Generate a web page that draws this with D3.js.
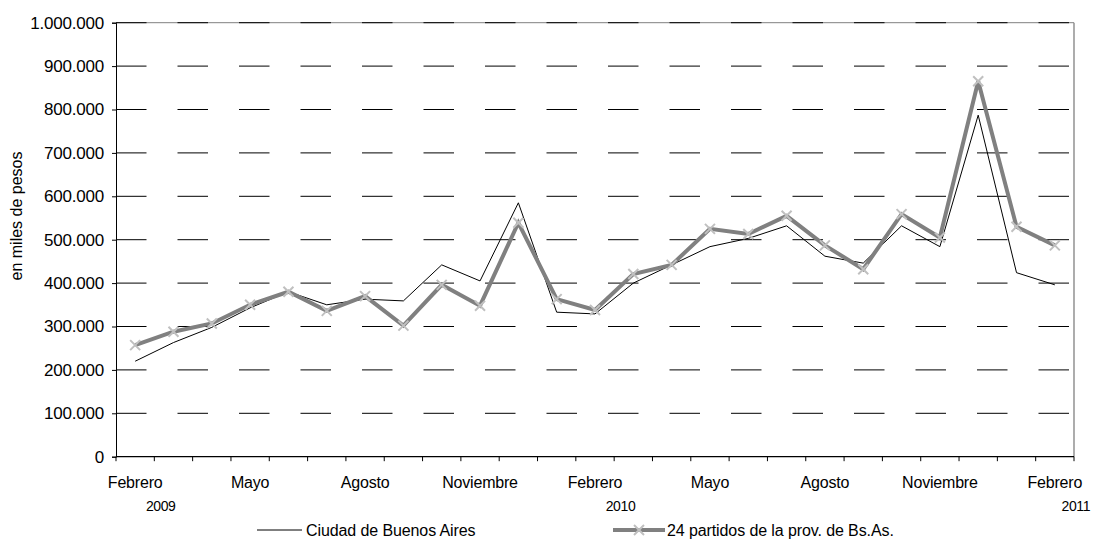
<!DOCTYPE html>
<html>
<head>
<meta charset="utf-8">
<script src="https://cdn.jsdelivr.net/npm/d3@7"></script>
<style>
  html, body { margin: 0; padding: 0; background: #fff; }
  svg text { font-family: "Liberation Sans", Arial, sans-serif; fill: #000; }
</style>
</head>
<body>
<svg id="chart" width="1093" height="540"></svg>
<script>
// ---- data (miles de pesos) ----
const months = ["Febrero","Marzo","Abril","Mayo","Junio","Julio","Agosto","Septiembre","Octubre","Noviembre","Diciembre","Enero",
                "Febrero","Marzo","Abril","Mayo","Junio","Julio","Agosto","Septiembre","Octubre","Noviembre","Diciembre","Enero","Febrero"];
const labelIdx = [0, 3, 6, 9, 12, 15, 18, 21, 24];
const years = ["2009", "2010", "2011"];
const yearIdx = [0, 12, 24];
const ciudad   = [220000, 263000, 298000, 343000, 380000, 350000, 363000, 359000, 442000, 405000, 585000, 333000, 329000,
                  400000, 442000, 484000, 503000, 532000, 462000, 446000, 532000, 484000, 787000, 424000, 396000];
const partidos = [257000, 288000, 307000, 350000, 380000, 336000, 370000, 302000, 396000, 348000, 539000, 363000, 338000,
                  421000, 442000, 525000, 513000, 555000, 487000, 432000, 559000, 505000, 865000, 530000, 487000];
const yTicks = [0,100000,200000,300000,400000,500000,600000,700000,800000,900000,1000000];
const seriesNames = ["Ciudad de Buenos Aires", "24 partidos de la prov. de Bs.As."];

const svg = d3.select("#chart");
const L = 116, R = 1074, T = 22.7, B = 456.7;

const x = d3.scaleBand().domain(d3.range(months.length)).range([L, R]).padding(0);
const cx = i => x(i) + x.bandwidth() / 2;
const y = d3.scaleLinear().domain([0, 1000000]).range([B, T]);

const loc = d3.formatLocale({decimal: ",", thousands: ".", grouping: [3], currency: ["$", ""]});
const fmt = loc.format(",d");

// plot border (top & right gray)
svg.append("line").attr("x1", L).attr("x2", R).attr("y1", T).attr("y2", T)
   .attr("stroke", "#808080").attr("stroke-width", 1);
svg.append("line").attr("x1", R).attr("x2", R).attr("y1", T).attr("y2", B)
   .attr("stroke", "#808080").attr("stroke-width", 1.3);

// dashed gridlines
svg.append("g").selectAll("line").data(yTicks.filter(d => d > 0)).join("line")
  .attr("x1", L).attr("x2", R)
  .attr("y1", d => y(d)).attr("y2", d => y(d))
  .attr("stroke", "#000").attr("stroke-width", 1)
  .attr("stroke-dasharray", "30.5,31");

// y axis
const yAxis = svg.append("g").attr("transform", `translate(${L},0)`)
  .call(d3.axisLeft(y).tickValues(yTicks).tickFormat(fmt).tickSize(4).tickPadding(8));
yAxis.select(".domain").attr("stroke", "#000");
yAxis.selectAll(".tick line").attr("stroke", "#000");
yAxis.selectAll("text").attr("font-size", 17).attr("font-family", '"Liberation Sans", Arial, sans-serif')
  .attr("letter-spacing", -0.2).attr("fill", "#000");

// x axis baseline & ticks at category boundaries
svg.append("line").attr("x1", L).attr("x2", R).attr("y1", B).attr("y2", B)
  .attr("stroke", "#000").attr("stroke-width", 1.2);
const bounds = d3.range(months.length + 1).map(i => i < months.length ? x(i) : x(months.length - 1) + x.bandwidth());
svg.append("g").selectAll("line").data(bounds).join("line")
  .attr("x1", d => d).attr("x2", d => d).attr("y1", B).attr("y2", B + 4.5)
  .attr("stroke", "#000").attr("stroke-width", 1);

// month labels
svg.append("g").selectAll("text").data(labelIdx).join("text")
  .attr("x", i => cx(i)).attr("y", 487.5)
  .attr("text-anchor", "middle").attr("font-size", 16).attr("letter-spacing", -0.2)
  .text(i => months[i]);

// year labels
svg.append("g").selectAll("text").data(yearIdx).join("text")
  .attr("x", (i, k) => cx(i) + (k === 2 ? 21 : 25.5)).attr("y", 511)
  .attr("text-anchor", "middle").attr("font-size", 14).attr("letter-spacing", -0.4)
  .text((i, k) => years[k]);

// y axis title
svg.append("text").attr("transform", "translate(22,216) rotate(-90)")
  .attr("text-anchor", "middle").attr("font-size", 16).text("en miles de pesos");

// lines
const line = d3.line().x((d, i) => cx(i)).y(d => y(d));
svg.append("path").datum(ciudad).attr("d", line)
  .attr("fill", "none").attr("stroke", "#000").attr("stroke-width", 1);
svg.append("path").datum(partidos).attr("d", line)
  .attr("fill", "none").attr("stroke", "#808080").attr("stroke-width", 4).attr("stroke-linejoin", "miter");

// x markers
const mk = 5;
const xMark = (px, py) => `M${px - mk},${py - mk}L${px + mk},${py + mk}M${px - mk},${py + mk}L${px + mk},${py - mk}`;
svg.append("g").selectAll("path").data(partidos).join("path")
  .attr("d", (d, i) => xMark(cx(i), y(d)))
  .attr("stroke", "#c0c0c0").attr("stroke-width", 2).attr("fill", "none");

// legend
const lg = svg.append("g");
lg.append("line").attr("x1", 257).attr("x2", 302).attr("y1", 530).attr("y2", 530)
  .attr("stroke", "#000").attr("stroke-width", 1);
lg.append("text").attr("x", 306).attr("y", 535.5).attr("font-size", 16).attr("letter-spacing", -0.1)
  .text(seriesNames[0]);
lg.append("line").attr("x1", 613).attr("x2", 665).attr("y1", 530).attr("y2", 530)
  .attr("stroke", "#808080").attr("stroke-width", 4);
lg.append("path").attr("d", xMark(639, 530)).attr("stroke", "#c0c0c0").attr("stroke-width", 2).attr("fill", "none");
lg.append("text").attr("x", 667).attr("y", 535.5).attr("font-size", 16).attr("letter-spacing", -0.1)
  .text(seriesNames[1]);
</script>
</body>
</html>
